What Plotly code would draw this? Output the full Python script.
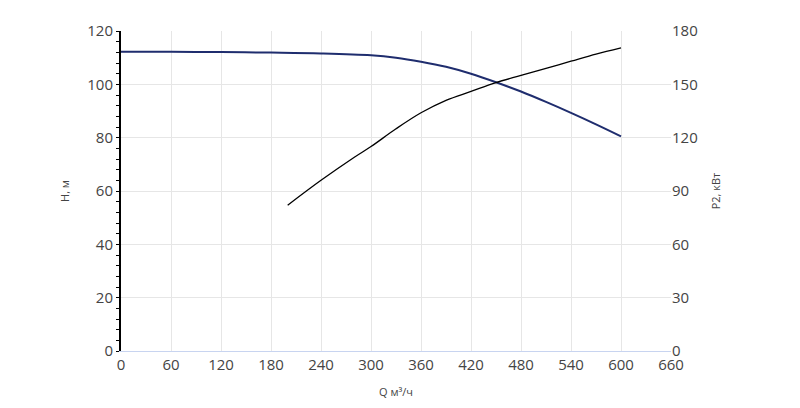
import plotly.graph_objects as go

q_head = [0, 60, 120, 180, 240, 300, 330, 360, 390, 420, 450, 480, 510, 540, 570, 600]
head = [112.2, 112.2, 112.1, 111.9, 111.6, 110.9, 110.0, 108.5, 106.6, 104.0, 100.8, 97.3, 93.4, 89.3, 85.0, 80.5]

q_power = [200, 240, 280, 300, 330, 360, 390, 420, 450, 480, 510, 540, 570, 600]
power = [82, 96, 109, 115, 125, 134, 141, 146, 151, 155, 159, 163, 167, 170.5]

x_ticks = list(range(0, 661, 60))

fig = go.Figure()
fig.add_trace(go.Scatter(x=q_head, y=head, mode="lines", line=dict(color="#1f2d6e", width=2, shape="spline"), showlegend=False))
fig.add_trace(go.Scatter(x=q_power, y=power, mode="lines", yaxis="y2", line=dict(color="black", width=1.3, shape="spline"), showlegend=False))

font = dict(family="Open Sans", size=15, color="#444")
fig.update_layout(
    width=800, height=408,
    margin=dict(l=113, r=137, t=15, b=65),
    plot_bgcolor="white", paper_bgcolor="white",
    font=font,
    xaxis=dict(range=[0, 660], tickvals=x_ticks, showgrid=True, gridcolor="#e6e6e6",
               showline=True, linecolor="#c8d4f0", zeroline=False,
               title=dict(text="Q м³/ч", font=dict(size=11)), ticks=""),
    yaxis=dict(range=[0, 120], dtick=20, showgrid=True, gridcolor="#e6e6e6",
               showline=True, linecolor="black", linewidth=2, zeroline=False,
               ticks="outside", ticklen=3, tickcolor="black",
               minor=dict(dtick=4, ticks="outside", ticklen=3, tickcolor="black", showgrid=False),
               title=dict(text="H, м", font=dict(size=11))),
    yaxis2=dict(range=[0, 180], dtick=30, overlaying="y", side="right", showgrid=False,
                zeroline=False, title=dict(text="P2, кВт", font=dict(size=11))),
)
fig.write_html("out.html")
